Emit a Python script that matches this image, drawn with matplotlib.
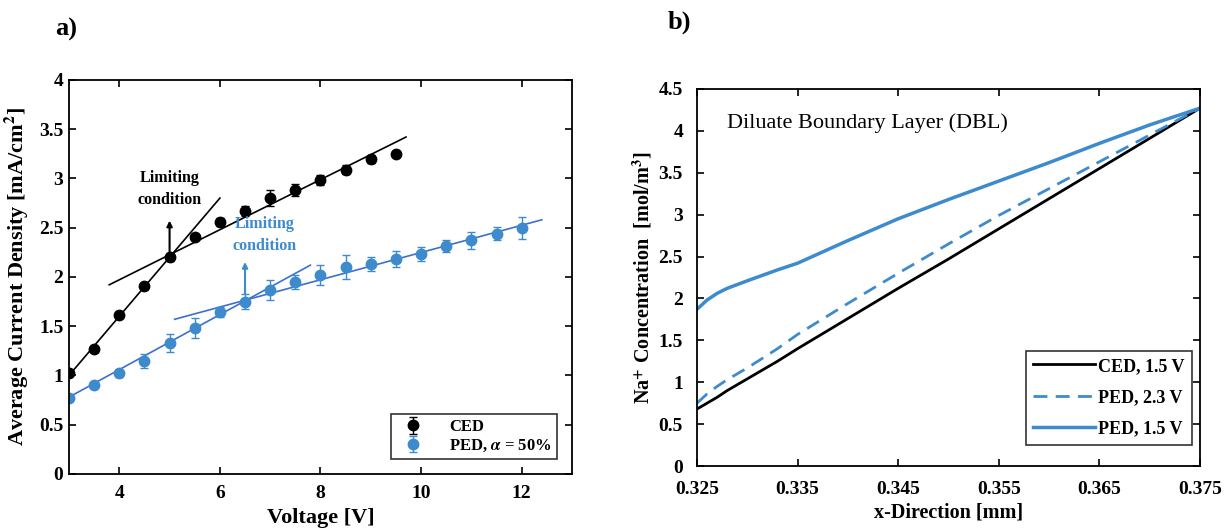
import numpy as np
import matplotlib; matplotlib.use("Agg")
import matplotlib.pyplot as plt

plt.rcParams["font.family"] = ["Liberation Serif", "DejaVu Serif"]
plt.rcParams["mathtext.fontset"] = "stix"
plt.rcParams["font.weight"] = "bold"

# --- panel a: measured current density
ced_v = [3, 3.5, 4, 4.5, 5, 5.5, 6, 6.5, 7, 7.5, 8, 8.5, 9, 9.5]
ced_i = [1.03, 1.27, 1.61, 1.91, 2.20, 2.41, 2.56, 2.67, 2.80, 2.88, 2.98, 3.09, 3.20, 3.25]
ced_e = [0.03, 0.03, 0.03, 0.03, 0.04, 0.03, 0.04, 0.05, 0.08, 0.06, 0.05, 0.05, 0.04, 0.03]
ped_v = [3, 3.5, 4, 4.5, 5, 5.5, 6, 6.5, 7, 7.5, 8, 8.5, 9, 9.5, 10, 10.5, 11, 11.5, 12]
ped_i = [0.77, 0.90, 1.02, 1.15, 1.33, 1.48, 1.64, 1.75, 1.87, 1.95, 2.02, 2.10, 2.13, 2.18, 2.23, 2.31, 2.37, 2.44, 2.50]
ped_e = [0.03, 0.03, 0.04, 0.07, 0.09, 0.10, 0.05, 0.08, 0.10, 0.07, 0.10, 0.12, 0.07, 0.08, 0.07, 0.06, 0.09, 0.07, 0.11]
# fitted segments (x0, x1), (y0, y1)
ced_fit1 = ([3.0, 6.0], [1.0, 2.8])
ced_fit2 = ([3.8, 9.7], [1.92, 3.42])
ped_fit1 = ([3.0, 7.8], [0.78, 2.12])
ped_fit2 = ([5.1, 12.4], [1.57, 2.58])

# --- panel b: Na+ profiles in the DBL
xd = [0.325, 0.326, 0.327, 0.328, 0.330, 0.333, 0.335, 0.340, 0.345, 0.350, 0.355, 0.360, 0.365, 0.370, 0.375]
ced_15 = [0.68, 0.75, 0.82, 0.90, 1.04, 1.25, 1.40, 1.76, 2.12, 2.47, 2.83, 3.19, 3.55, 3.91, 4.27]
ped_23 = [0.75, 0.86, 0.95, 1.03, 1.17, 1.40, 1.57, 1.94, 2.30, 2.65, 2.99, 3.31, 3.63, 3.95, 4.27]
ped_15 = [1.87, 1.98, 2.06, 2.12, 2.21, 2.34, 2.42, 2.69, 2.95, 3.18, 3.40, 3.62, 3.85, 4.07, 4.27]

BLUE = "#3d8bcd"
FITB = "#3c6fd2"

fig = plt.figure(figsize=(12.27, 5.29), dpi=100)
ax = fig.add_axes([0.0562, 0.104, 0.41, 0.745])
bx = fig.add_axes([0.568, 0.119, 0.41, 0.713])

for a in (ax, bx):
    a.tick_params(direction="in", top=True, right=True, labelsize=14, length=5, width=1.2)
    for s in a.spines.values():
        s.set_linewidth(1.3)
ax.tick_params(axis="x", pad=8)
ax.tick_params(axis="y", pad=4)
bx.tick_params(axis="x", pad=11)
bx.tick_params(axis="y", pad=10)

ax.plot(*ced_fit1, c="k", lw=1.2)
ax.plot(*ced_fit2, c="k", lw=1.2)
ax.plot(*ped_fit1, c=FITB, lw=1.2)
ax.plot(*ped_fit2, c=FITB, lw=1.2)
ax.errorbar(ced_v, ced_i, yerr=ced_e, fmt="o", c="k", ms=7.5, capsize=3, elinewidth=1, label="CED")
ax.errorbar(ped_v, ped_i, yerr=ped_e, fmt="o", c=BLUE, ms=7.5, capsize=3, elinewidth=1,
            label=r"PED, $\alpha$ = 50%")
ax.annotate("", xy=(5, 2.6), xytext=(5, 2.2),
            arrowprops=dict(arrowstyle="-|>", color="k", lw=1.5, mutation_scale=8))
ax.text(5.0, 2.89, "Limiting\ncondition", ha="center", va="center", fontsize=11.5,
        fontweight="bold", linespacing=1.5)
ax.annotate("", xy=(6.5, 2.18), xytext=(6.5, 1.8),
            arrowprops=dict(arrowstyle="-|>", color=BLUE, lw=1.5, mutation_scale=8))
ax.text(6.89, 2.43, "Limiting\ncondition", ha="center", va="center", fontsize=11.5,
        fontweight="bold", color=BLUE, linespacing=1.5)
ax.set_xlim(3, 13)
ax.set_ylim(0, 4)
ax.set_xticks([4, 6, 8, 10, 12])
ax.set_yticks([0, 0.5, 1, 1.5, 2, 2.5, 3, 3.5, 4])
ax.set_yticklabels(["0", "0.5", "1", "1.5", "2", "2.5", "3", "3.5", "4"])
ax.set_xlabel("Voltage [V]", fontsize=16, fontweight="bold", labelpad=4)
ax.set_ylabel(r"Average Current Density [mA/cm$^\mathbf{2}$]", fontsize=16, fontweight="bold",
              labelpad=6)
leg = ax.legend(loc="lower right", fontsize=12, frameon=True, fancybox=False,
                edgecolor="k", borderaxespad=0.9, handletextpad=1.2, labelspacing=0.15,
                borderpad=0.3)
leg.get_frame().set_linewidth(1.2)

bx.plot(xd, ced_15, c="k", lw=2, label="CED, 1.5 V")
bx.plot(xd, ped_23, c=BLUE, lw=2, ls=(0, (5, 3)), label="PED, 2.3 V")
bx.plot(xd, ped_15, c=BLUE, lw=2.5, label="PED, 1.5 V")
bx.text(0.328, 4.09, "Diluate Boundary Layer (DBL)", fontsize=16, fontweight="normal",
        va="center", ha="left")
bx.set_xlim(0.325, 0.375)
bx.set_ylim(0, 4.5)
bx.set_xticks([0.325, 0.335, 0.345, 0.355, 0.365, 0.375])
bx.set_yticks([0, 0.5, 1, 1.5, 2, 2.5, 3, 3.5, 4, 4.5])
bx.set_yticklabels(["0", "0.5", "1", "1.5", "2", "2.5", "3", "3.5", "4", "4.5"])
bx.set_xlabel("x-Direction [mm]", fontsize=14.5, fontweight="bold", labelpad=3)
bx.set_ylabel(r"Na$^\mathbf{+}$ Concentration  [mol/m$^\mathbf{3}$]", fontsize=14.5,
              fontweight="bold", labelpad=3)
leg2 = bx.legend(loc="lower right", bbox_to_anchor=(0.984, 0.056), fontsize=13, frameon=True,
                 fancybox=False, edgecolor="k", borderaxespad=0, handlelength=3.4,
                 handletextpad=0.2, labelspacing=0.8)
leg2.get_frame().set_linewidth(1.2)

fig.text(0.045, 0.945, "a)", fontsize=19, fontweight="bold", va="center")
fig.text(0.544, 0.958, "b)", fontsize=19, fontweight="bold", va="center")

fig.savefig("out.png", dpi=100)
